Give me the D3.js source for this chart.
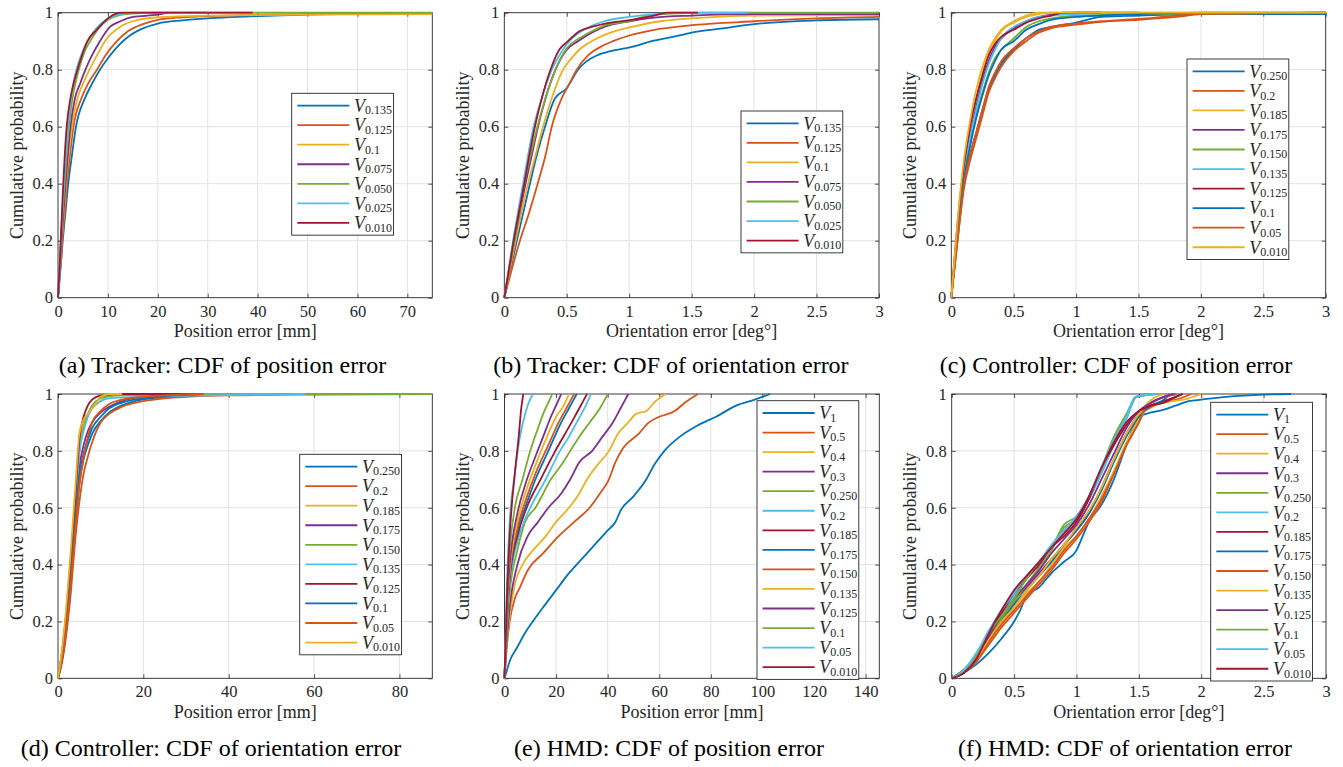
<!DOCTYPE html>
<html>
<head>
<meta charset="utf-8">
<script src="https://cdn.jsdelivr.net/npm/d3@7"></script>
<style>
  body { margin: 0; background: #fff; }
</style>
</head>
<body>
<svg id="chart" width="1343" height="767"></svg>
<script>
// ---- data ----
const yTicks = [0, 0.2, 0.4, 0.6, 0.8, 1];
const ticksA = [0, 10, 20, 30, 40, 50, 60, 70];
const ticksDeg = [0, 0.5, 1, 1.5, 2, 2.5, 3];
const ticksD = [0, 20, 40, 60, 80];
const ticksE = [0, 20, 40, 60, 80, 100, 120, 140];

// (a) tracker, position error
const labelsA = ["0.135", "0.125", "0.1", "0.075", "0.050", "0.025", "0.010"];
const seriesA = [
  [[0,0],[0.5,0.1],[0.95,0.2],[1.5,0.3],[2.05,0.4],[2.8,0.5],[3.6,0.6],[5.4,0.7],[6.8,0.75],[8.4,0.8],[10,0.84],[12.4,0.89],[14,0.915],[17,0.945],[20,0.962],[25,0.973],[30,0.98],[40,0.988],[50,0.993],[60,0.996],[75,0.998]],
  [[0,0],[0.45,0.1],[0.85,0.2],[1.35,0.3],[1.8,0.4],[2.4,0.5],[3.1,0.6],[4.7,0.7],[6,0.75],[7.8,0.8],[9.5,0.85],[11.8,0.9],[14,0.935],[17,0.96],[20,0.975],[25,0.984],[30,0.988],[40,0.992],[50,0.995],[75,0.997]],
  [[0,0],[0.4,0.1],[0.75,0.2],[1.2,0.3],[1.6,0.4],[2.1,0.5],[2.8,0.6],[3.9,0.7],[5,0.75],[6.3,0.8],[7.8,0.85],[9.4,0.9],[12.4,0.95],[15,0.97],[20,0.984],[30,0.99],[50,0.993],[75,0.995]],
  [[0,0],[0.35,0.1],[0.7,0.2],[1.1,0.3],[1.5,0.4],[1.95,0.5],[2.5,0.6],[3.4,0.7],[4.4,0.75],[5.5,0.8],[6.8,0.85],[8.4,0.9],[10.4,0.95],[12.5,0.97],[15,0.985],[20,0.993],[22,1]],
  [[0,0],[0.3,0.1],[0.6,0.2],[0.95,0.3],[1.3,0.4],[1.7,0.5],[2.2,0.6],[2.9,0.7],[3.6,0.76],[4.5,0.82],[5.5,0.87],[6.8,0.91],[8.4,0.95],[10,0.975],[12,0.99],[15,0.997],[20,1],[75,1]],
  [[0,0],[0.3,0.1],[0.55,0.2],[0.85,0.3],[1.2,0.4],[1.55,0.5],[2,0.6],[2.6,0.7],[3.4,0.78],[4.4,0.84],[5.6,0.89],[7,0.93],[8.5,0.96],[10,0.98],[12,0.993],[15,1],[30,1]],
  [[0,0],[0.3,0.1],[0.55,0.2],[0.8,0.3],[1.05,0.4],[1.35,0.5],[1.74,0.6],[2.5,0.7],[3.1,0.75],[3.9,0.8],[4.8,0.85],[5.9,0.9],[7.75,0.94],[8.8,0.96],[10,0.98],[11.4,0.995],[13,1],[39,1]]
];

// (b) tracker, orientation error
const labelsB = ["0.135", "0.125", "0.1", "0.075", "0.050", "0.025", "0.010"];
const seriesB = [
  [[0,0],[0.1,0.2],[0.205,0.4],[0.26,0.5],[0.326,0.6],[0.406,0.7],[0.5,0.735],[0.59,0.8],[0.66,0.83],[0.74,0.85],[0.85,0.865],[1.02,0.88],[1.18,0.9],[1.35,0.915],[1.5,0.93],[1.75,0.945],[2,0.96],[2.5,0.973],[3,0.977]],
  [[0,0],[0.125,0.2],[0.2,0.3],[0.267,0.4],[0.33,0.5],[0.38,0.6],[0.46,0.7],[0.52,0.75],[0.58,0.8],[0.67,0.85],[0.77,0.88],[0.87,0.9],[1,0.92],[1.2,0.94],[1.47,0.955],[2,0.97],[2.5,0.98],[3,0.985]],
  [[0,0],[0.09,0.2],[0.19,0.4],[0.25,0.5],[0.31,0.6],[0.38,0.7],[0.47,0.8],[0.52,0.83],[0.6,0.87],[0.7,0.9],[0.85,0.93],[1.02,0.95],[1.25,0.97],[1.5,0.98],[2,0.99],[3,0.992]],
  [[0,0],[0.08,0.2],[0.17,0.4],[0.22,0.5],[0.27,0.6],[0.33,0.7],[0.41,0.8],[0.5,0.87],[0.59,0.9],[0.7,0.93],[0.8,0.95],[1,0.97],[1.2,0.983],[1.5,0.99],[2,0.995],[3,0.995]],
  [[0,0],[0.08,0.2],[0.16,0.4],[0.21,0.5],[0.265,0.6],[0.33,0.7],[0.41,0.8],[0.5,0.875],[0.6,0.91],[0.7,0.935],[0.8,0.955],[1,0.97],[1.15,0.99],[1.4,0.998],[1.6,1],[3,1]],
  [[0,0],[0.07,0.2],[0.15,0.4],[0.19,0.5],[0.235,0.6],[0.3,0.7],[0.38,0.8],[0.44,0.85],[0.52,0.9],[0.68,0.95],[0.8,0.97],[1,0.985],[1.2,0.995],[1.4,1],[1.95,1]],
  [[0,0],[0.075,0.2],[0.16,0.4],[0.2,0.5],[0.245,0.6],[0.3,0.7],[0.37,0.8],[0.44,0.87],[0.51,0.9],[0.6,0.935],[0.7,0.95],[0.85,0.965],[1.02,0.975],[1.2,0.99],[1.3,1],[1.55,1]]
];

// (c) controller
const labelsC = ["0.250", "0.2", "0.185", "0.175", "0.150", "0.135", "0.125", "0.1", "0.05", "0.010"];
const seriesC = [
  [[0,0],[0.05,0.22],[0.1,0.4],[0.15,0.5],[0.2,0.58],[0.25,0.66],[0.3,0.73],[0.35,0.78],[0.4,0.82],[0.5,0.87],[0.6,0.91],[0.7,0.94],[0.8,0.95],[1,0.965],[1.2,0.985],[1.5,0.99],[2,0.995],[3,0.995]],
  [[0,0],[0.05,0.2],[0.1,0.38],[0.15,0.48],[0.2,0.56],[0.25,0.64],[0.3,0.72],[0.35,0.77],[0.4,0.81],[0.5,0.865],[0.6,0.9],[0.7,0.93],[0.8,0.945],[1,0.958],[1.2,0.968],[1.5,0.975],[1.8,0.985],[2,0.995],[3,1]],
  [[0,0],[0.05,0.25],[0.1,0.46],[0.15,0.6],[0.2,0.7],[0.25,0.79],[0.3,0.86],[0.35,0.9],[0.4,0.935],[0.5,0.965],[0.6,0.985],[0.7,0.995],[0.8,1],[3,1]],
  [[0,0],[0.05,0.24],[0.1,0.44],[0.15,0.57],[0.2,0.67],[0.25,0.76],[0.3,0.83],[0.35,0.88],[0.4,0.91],[0.5,0.945],[0.6,0.97],[0.7,0.985],[0.8,0.993],[1,1],[1.5,1]],
  [[0,0],[0.05,0.22],[0.1,0.42],[0.15,0.54],[0.2,0.64],[0.25,0.72],[0.3,0.79],[0.35,0.84],[0.4,0.87],[0.5,0.91],[0.6,0.95],[0.7,0.97],[0.8,0.98],[1,0.99],[1.5,0.995],[3,1]],
  [[0,0],[0.05,0.23],[0.1,0.43],[0.15,0.56],[0.2,0.66],[0.25,0.75],[0.3,0.82],[0.35,0.87],[0.4,0.91],[0.5,0.95],[0.6,0.97],[0.7,0.985],[0.8,0.99],[1,0.995],[1.5,1]],
  [[0,0],[0.05,0.26],[0.1,0.46],[0.15,0.6],[0.2,0.7],[0.25,0.78],[0.3,0.85],[0.35,0.89],[0.4,0.915],[0.45,0.93],[0.5,0.94],[0.6,0.965],[0.7,0.98],[0.8,0.99],[0.9,1],[1.2,1]],
  [[0,0],[0.05,0.22],[0.1,0.41],[0.15,0.53],[0.2,0.63],[0.25,0.71],[0.3,0.78],[0.35,0.83],[0.4,0.87],[0.5,0.9],[0.6,0.94],[0.7,0.96],[0.8,0.975],[1,0.985],[1.2,0.99],[1.5,0.995],[2,1],[3,1]],
  [[0,0],[0.05,0.2],[0.1,0.39],[0.15,0.5],[0.2,0.58],[0.25,0.66],[0.3,0.74],[0.35,0.79],[0.4,0.83],[0.5,0.875],[0.6,0.91],[0.7,0.935],[0.8,0.95],[1,0.962],[1.2,0.97],[1.5,0.978],[1.8,0.99],[2,0.997],[3,1]],
  [[0,0],[0.05,0.27],[0.1,0.48],[0.15,0.62],[0.2,0.73],[0.25,0.81],[0.3,0.87],[0.35,0.91],[0.4,0.94],[0.5,0.97],[0.6,0.99],[0.7,1],[3,1]]
];

// (d) controller
const labelsD = ["0.250", "0.2", "0.185", "0.175", "0.150", "0.135", "0.125", "0.1", "0.05", "0.010"];
const seriesD = [
  [[0,0],[1,0.07],[2,0.18],[3,0.33],[4,0.52],[5,0.68],[6,0.77],[7,0.82],[8,0.86],[10,0.905],[12,0.935],[15,0.96],[18,0.975],[22,0.985],[28,0.993],[34,1]],
  [[0,0],[1,0.06],[2,0.16],[3,0.3],[4,0.48],[5,0.62],[6,0.72],[7,0.78],[8,0.83],[9,0.87],[10,0.9],[12,0.93],[15,0.955],[20,0.975],[25,0.985],[30,0.99],[40,0.995],[60,0.998],[87.7,1]],
  [[0,0],[1,0.1],[2,0.24],[3,0.42],[4,0.62],[5,0.82],[6,0.9],[7,0.93],[8,0.95],[10,0.975],[12,0.995],[13,1],[20,1]],
  [[0,0],[1,0.08],[2,0.2],[3,0.37],[4,0.56],[5,0.74],[6,0.82],[7,0.87],[8,0.9],[10,0.935],[12,0.955],[15,0.975],[20,0.992],[22,1]],
  [[0,0],[1,0.09],[2,0.22],[3,0.4],[4,0.6],[5,0.8],[6,0.88],[7,0.93],[8,0.96],[10,0.985],[12,0.993],[20,0.996],[40,0.998],[58,1],[87.7,1]],
  [[0,0],[1,0.09],[2,0.22],[3,0.4],[4,0.6],[5,0.79],[6,0.87],[7,0.92],[8,0.95],[10,0.975],[12,0.985],[20,0.99],[35,0.995],[58,1]],
  [[0,0],[1,0.1],[2,0.24],[3,0.42],[4,0.62],[5,0.84],[6,0.92],[7,0.96],[8,0.98],[9,0.99],[11,0.997],[13,1],[34,1]],
  [[0,0],[1,0.07],[2,0.19],[3,0.35],[4,0.55],[5,0.71],[6,0.79],[7,0.84],[8,0.88],[10,0.92],[12,0.95],[15,0.97],[20,0.985],[25,0.993],[30,0.997],[34,1]],
  [[0,0],[1,0.07],[2,0.18],[3,0.33],[4,0.52],[5,0.68],[6,0.78],[7,0.85],[8,0.9],[10,0.94],[12,0.965],[15,0.98],[20,0.99],[25,0.995],[34,1]],
  [[0,0],[1,0.11],[2,0.26],[3,0.45],[4,0.66],[5,0.86],[6,0.91],[7,0.93],[8,0.95],[9,0.97],[10,0.99],[12,1],[15,1]]
];

// (e) HMD, position error
const labelsE = ["1", "0.5", "0.4", "0.3", "0.250", "0.2", "0.185", "0.175", "0.150", "0.135", "0.125", "0.1", "0.05", "0.010"];
const seriesE = [
  [[0,0],[1,0.03],[2,0.06],[5,0.11],[8,0.16],[11,0.2],[15,0.25],[20,0.31],[25,0.37],[30,0.42],[35,0.47],[40,0.52],[43,0.55],[45,0.59],[50,0.64],[55,0.7],[58,0.75],[62,0.8],[68,0.85],[75,0.89],[82,0.92],[90,0.96],[97,0.98],[103,1]],
  [[0,0],[1,0.12],[2,0.2],[4,0.28],[6,0.32],[9,0.38],[15,0.44],[21,0.5],[27,0.55],[33,0.6],[37,0.65],[40.5,0.7],[43,0.76],[46,0.81],[52,0.86],[56,0.9],[60,0.92],[66,0.94],[70,0.97],[75,1]],
  [[0,0],[1,0.13],[2,0.22],[4,0.33],[7,0.4],[11,0.45],[16,0.5],[20,0.55],[25,0.6],[29,0.65],[32,0.7],[36,0.75],[40.5,0.8],[44,0.86],[48,0.9],[51,0.93],[55,0.94],[58,0.97],[62.5,1]],
  [[0,0],[1,0.15],[2,0.25],[5,0.4],[9,0.5],[13,0.55],[17,0.6],[22,0.65],[25.5,0.7],[29,0.76],[34,0.8],[38,0.85],[42,0.9],[45,0.95],[48,1]],
  [[0,0],[1,0.18],[2,0.3],[5,0.45],[8,0.55],[12,0.6],[18,0.7],[22,0.75],[25.5,0.8],[29,0.85],[33,0.9],[37,0.95],[40,1]],
  [[0,0],[1,0.2],[2,0.33],[5,0.48],[8,0.56],[10,0.6],[16,0.7],[21.5,0.8],[25,0.85],[28,0.9],[31,0.95],[33.5,1]],
  [[0,0],[1,0.22],[2,0.35],[5,0.5],[8.6,0.6],[14,0.7],[19.7,0.8],[26,0.9],[29,0.95],[32,1]],
  [[0,0],[1,0.23],[2,0.36],[5,0.52],[8,0.6],[12,0.7],[17,0.8],[22,0.9],[25,0.95],[28,1]],
  [[0,0],[1,0.24],[2,0.37],[5,0.53],[8,0.62],[12,0.72],[17,0.82],[21,0.9],[24,0.95],[27,1]],
  [[0,0],[1,0.25],[2,0.38],[5,0.55],[8,0.65],[12,0.75],[16,0.84],[20,0.92],[23,0.96],[25,1]],
  [[0,0],[1,0.27],[2,0.4],[5,0.58],[8,0.68],[12,0.78],[15,0.85],[18,0.92],[20,0.96],[22,1]],
  [[0,0],[1,0.3],[2,0.45],[4,0.6],[7,0.7],[10,0.8],[13,0.88],[15,0.93],[17,0.97],[18.5,1]],
  [[0,0],[1,0.35],[2,0.55],[4,0.72],[6,0.85],[8,0.93],[9,0.96],[11,1]],
  [[0,0],[1,0.3],[2,0.5],[4,0.72],[5.5,0.85],[6.5,0.95],[7.3,1]]
];

// (f) HMD, orientation error
const labelsF = ["1", "0.5", "0.4", "0.3", "0.250", "0.2", "0.185", "0.175", "0.150", "0.135", "0.125", "0.1", "0.05", "0.010"];
const seriesF = [
  [[0,0],[0.1,0.02],[0.2,0.05],[0.3,0.09],[0.4,0.14],[0.5,0.2],[0.55,0.24],[0.6,0.29],[0.7,0.32],[0.8,0.37],[0.9,0.41],[1,0.45],[1.05,0.5],[1.1,0.55],[1.2,0.61],[1.3,0.7],[1.4,0.82],[1.5,0.92],[1.6,0.935],[1.7,0.945],[1.8,0.96],[1.9,0.975],[2,0.98],[2.2,0.99],[2.5,0.998],[2.72,1]],
  [[0,0],[0.1,0.02],[0.2,0.06],[0.3,0.12],[0.4,0.18],[0.5,0.23],[0.6,0.28],[0.7,0.33],[0.8,0.38],[0.9,0.44],[1,0.49],[1.1,0.55],[1.2,0.62],[1.3,0.72],[1.4,0.82],[1.5,0.9],[1.55,0.94],[1.7,0.97],[1.8,0.98],[1.92,1]],
  [[0,0],[0.1,0.03],[0.2,0.07],[0.3,0.13],[0.4,0.19],[0.5,0.25],[0.6,0.3],[0.7,0.34],[0.8,0.4],[0.9,0.46],[1,0.5],[1.1,0.56],[1.2,0.64],[1.3,0.73],[1.4,0.83],[1.5,0.91],[1.6,0.96],[1.7,0.97],[1.9,0.985],[2,1]],
  [[0,0],[0.1,0.03],[0.2,0.08],[0.3,0.15],[0.4,0.21],[0.5,0.27],[0.6,0.32],[0.7,0.37],[0.8,0.42],[0.9,0.47],[1,0.52],[1.1,0.58],[1.2,0.67],[1.3,0.77],[1.4,0.86],[1.5,0.93],[1.6,0.97],[1.7,0.99],[1.8,1]],
  [[0,0],[0.1,0.03],[0.2,0.08],[0.3,0.15],[0.4,0.21],[0.5,0.27],[0.6,0.33],[0.7,0.39],[0.8,0.45],[0.9,0.53],[1,0.56],[1.1,0.63],[1.2,0.73],[1.3,0.84],[1.4,0.92],[1.48,0.99],[1.6,1]],
  [[0,0],[0.1,0.03],[0.2,0.09],[0.3,0.16],[0.4,0.23],[0.5,0.29],[0.6,0.35],[0.7,0.4],[0.8,0.46],[0.9,0.51],[1,0.56],[1.1,0.63],[1.2,0.72],[1.3,0.82],[1.4,0.91],[1.48,0.99],[1.62,1]],
  [[0,0],[0.1,0.02],[0.2,0.07],[0.3,0.16],[0.4,0.23],[0.5,0.3],[0.6,0.35],[0.7,0.4],[0.8,0.46],[0.9,0.5],[1,0.55],[1.1,0.63],[1.2,0.74],[1.3,0.82],[1.4,0.89],[1.5,0.94],[1.6,0.96],[1.7,0.975],[1.85,1]],
  [[0,0],[0.1,0.03],[0.2,0.07],[0.3,0.14],[0.4,0.2],[0.5,0.26],[0.6,0.31],[0.7,0.36],[0.8,0.41],[0.9,0.47],[1,0.52],[1.1,0.58],[1.2,0.66],[1.3,0.76],[1.4,0.85],[1.5,0.92],[1.6,0.96],[1.7,0.98],[1.75,1]],
  [[0,0],[0.1,0.02],[0.2,0.06],[0.3,0.13],[0.4,0.19],[0.5,0.24],[0.6,0.29],[0.7,0.34],[0.8,0.39],[0.9,0.45],[1,0.5],[1.1,0.56],[1.2,0.63],[1.3,0.72],[1.4,0.82],[1.5,0.9],[1.55,0.95],[1.65,0.98],[1.8,1]],
  [[0,0],[0.1,0.03],[0.2,0.07],[0.3,0.14],[0.4,0.2],[0.5,0.25],[0.6,0.31],[0.7,0.36],[0.8,0.42],[0.9,0.47],[1,0.53],[1.1,0.59],[1.2,0.67],[1.3,0.77],[1.4,0.86],[1.5,0.93],[1.6,0.98],[1.7,1]],
  [[0,0],[0.1,0.03],[0.2,0.08],[0.3,0.15],[0.4,0.22],[0.5,0.28],[0.6,0.33],[0.7,0.38],[0.8,0.44],[0.9,0.49],[1,0.54],[1.1,0.61],[1.2,0.7],[1.3,0.79],[1.4,0.88],[1.5,0.94],[1.6,0.97],[1.7,0.99],[1.78,1]],
  [[0,0],[0.1,0.03],[0.2,0.08],[0.3,0.16],[0.4,0.22],[0.5,0.28],[0.6,0.35],[0.7,0.41],[0.8,0.46],[0.9,0.54],[1,0.57],[1.1,0.64],[1.2,0.74],[1.3,0.85],[1.4,0.93],[1.48,0.99],[1.65,1]],
  [[0,0],[0.1,0.03],[0.2,0.09],[0.3,0.17],[0.4,0.24],[0.5,0.3],[0.6,0.36],[0.7,0.41],[0.8,0.47],[0.9,0.52],[1,0.57],[1.1,0.64],[1.2,0.74],[1.3,0.84],[1.4,0.92],[1.47,0.99],[1.65,1]],
  [[0,0],[0.1,0.02],[0.2,0.07],[0.3,0.16],[0.4,0.24],[0.5,0.31],[0.6,0.36],[0.7,0.41],[0.8,0.46],[0.9,0.51],[1,0.56],[1.1,0.64],[1.2,0.74],[1.3,0.83],[1.4,0.9],[1.5,0.94],[1.6,0.96],[1.7,0.97],[1.8,0.99],[1.85,1]]
];

const colors = ["#0072BD", "#D95319", "#EDB120", "#7E2F8E", "#77AC30", "#4DBEEE", "#A2142F"];
const FONT = "'Liberation Serif', 'Times New Roman', serif";
const INK = "#262626";

const panels = [
  { left: 58, right: 432.3, top: 12.7, bottom: 297.7, xMax: 75, xTicks: ticksA,
    xLabel: "Position error [mm]", labels: labelsA, series: seriesA,
    legend: [291.7, 93.3], caption: "(a) Tracker: CDF of position error", capX: 222.5, capY: 373 },
  { left: 504.3, right: 879, top: 12.7, bottom: 297.7, xMax: 3, xTicks: ticksDeg,
    xLabel: "Orientation error [deg°]", labels: labelsB, series: seriesB,
    legend: [741, 111], caption: "(b) Tracker: CDF of orientation error", capX: 671, capY: 373 },
  { left: 951.3, right: 1325.7, top: 12.7, bottom: 297.7, xMax: 3, xTicks: ticksDeg,
    xLabel: "Orientation error [deg°]", labels: labelsC, series: seriesC,
    legend: [1187, 59], caption: "(c) Controller: CDF of position error", capX: 1116, capY: 373 },
  { left: 58, right: 432.3, top: 394, bottom: 678.3, xMax: 87.7, xTicks: ticksD,
    xLabel: "Position error [mm]", labels: labelsD, series: seriesD,
    legend: [299.7, 454.3], caption: "(d) Controller: CDF of orientation error", capX: 211, capY: 756 },
  { left: 504.5, right: 879.3, top: 394, bottom: 678.3, xMax: 145.3, xTicks: ticksE,
    xLabel: "Position error [mm]", labels: labelsE, series: seriesE,
    legend: [757, 400.7], caption: "(e) HMD: CDF of position error", capX: 669, capY: 756 },
  { left: 951.7, right: 1326, top: 394, bottom: 678.3, xMax: 3, xTicks: ticksDeg,
    xLabel: "Orientation error [deg°]", labels: labelsF, series: seriesF,
    legend: [1210.7, 402.3], caption: "(f) HMD: CDF of orientation error", capX: 1125, capY: 756 }
];

const svg = d3.select("#chart");

function drawPanel(p, idx) {
  const x = d3.scaleLinear().domain([0, p.xMax]).range([p.left, p.right]);
  const y = d3.scaleLinear().domain([0, 1]).range([p.bottom, p.top]);
  const g = svg.append("g");

  // grid
  g.selectAll(".gx").data(p.xTicks.filter(t => t > 0 && t < p.xMax)).enter()
    .append("line")
    .attr("x1", d => x(d)).attr("x2", d => x(d))
    .attr("y1", p.top).attr("y2", p.bottom)
    .attr("stroke", "#e3e3e3").attr("stroke-width", 1);
  g.selectAll(".gy").data(yTicks.filter(t => t > 0 && t < 1)).enter()
    .append("line")
    .attr("x1", p.left).attr("x2", p.right)
    .attr("y1", d => y(d)).attr("y2", d => y(d))
    .attr("stroke", "#e3e3e3").attr("stroke-width", 1);

  // axes (ticks inward on all four sides)
  const bottom = g.append("g").attr("transform", `translate(0,${p.bottom})`)
    .call(d3.axisBottom(x).tickValues(p.xTicks).tickSizeInner(-4).tickSizeOuter(0).tickPadding(7.3).tickFormat(d => d));
  const top = g.append("g").attr("transform", `translate(0,${p.top})`)
    .call(d3.axisTop(x).tickValues(p.xTicks).tickSizeInner(-4).tickSizeOuter(0).tickFormat(""));
  const left = g.append("g").attr("transform", `translate(${p.left},0)`)
    .call(d3.axisLeft(y).tickValues(yTicks).tickSizeInner(-4).tickSizeOuter(0).tickPadding(5).tickFormat(d => d));
  const right = g.append("g").attr("transform", `translate(${p.right},0)`)
    .call(d3.axisRight(y).tickValues(yTicks).tickSizeInner(-4).tickSizeOuter(0).tickFormat(""));
  [bottom, top, left, right].forEach(a => {
    a.select(".domain").remove();
    a.selectAll(".tick line").attr("stroke", INK).attr("stroke-width", 0.8);
    a.selectAll("text").attr("fill", INK).style("font-family", FONT).style("font-size", "16.5px");
  });

  g.append("rect")
    .attr("x", p.left).attr("y", p.top)
    .attr("width", p.right - p.left).attr("height", p.bottom - p.top)
    .attr("fill", "none").attr("stroke", INK).attr("stroke-width", 0.9);

  // data lines
  const clipId = "clip" + idx;
  svg.append("clipPath").attr("id", clipId).append("rect")
    .attr("x", p.left - 2).attr("y", p.top - 2)
    .attr("width", p.right - p.left + 4).attr("height", p.bottom - p.top + 4);

  const line = d3.line()
    .x(d => x(d[0]))
    .y(d => y(d[1]))
    .curve(d3.curveMonotoneX);

  g.append("g").attr("clip-path", `url(#${clipId})`)
    .selectAll("path").data(p.series).enter()
    .append("path")
    .attr("d", line)
    .attr("fill", "none")
    .attr("stroke", (d, i) => colors[i % colors.length])
    .attr("stroke-width", 1.8)
    .attr("stroke-linejoin", "round");

  // axis labels
  g.append("text")
    .attr("x", (p.left + p.right) / 2).attr("y", p.bottom + 39.5)
    .attr("text-anchor", "middle")
    .attr("fill", INK).style("font-family", FONT).style("font-size", "18px")
    .text(p.xLabel);
  g.append("text")
    .attr("transform", `translate(${p.left - 35.3},${(p.top + p.bottom) / 2}) rotate(-90)`)
    .attr("text-anchor", "middle")
    .attr("fill", INK).style("font-family", FONT).style("font-size", "18px")
    .text("Cumulative probability");

  // legend
  const rowH = 19.55;
  const [lx, ly] = p.legend;
  const lg = g.append("g");
  lg.append("rect")
    .attr("x", lx).attr("y", ly)
    .attr("width", 101.8).attr("height", p.labels.length * rowH + 5)
    .attr("fill", "#fff").attr("stroke", INK).attr("stroke-width", 0.9);
  p.labels.forEach((lab, i) => {
    const ry = ly + 2.5 + rowH * (i + 0.5);
    lg.append("line")
      .attr("x1", lx + 5.6).attr("x2", lx + 57.6)
      .attr("y1", ry).attr("y2", ry)
      .attr("stroke", colors[i % colors.length]).attr("stroke-width", 1.8);
    const t = lg.append("text")
      .attr("x", lx + 62.3).attr("y", ry + 6.3)
      .attr("fill", INK).style("font-family", FONT);
    t.append("tspan").style("font-style", "italic").style("font-size", "18px").text("V");
    t.append("tspan").style("font-size", "12px").attr("dy", 2.6).text(lab);
  });

  // caption
  svg.append("text")
    .attr("x", p.capX).attr("y", p.capY)
    .attr("text-anchor", "middle")
    .attr("fill", "#000").style("font-family", FONT).style("font-size", "24px")
    .text(p.caption);
}

panels.forEach(drawPanel);
</script>
</body>
</html>
